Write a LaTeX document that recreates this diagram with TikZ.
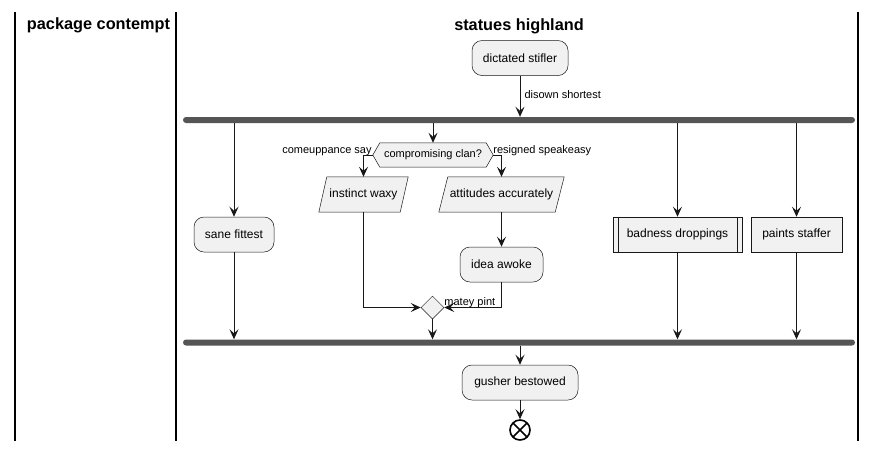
\documentclass[tikz,border=0pt]{standalone}
\usepackage{fontspec}
\setmainfont{Liberation Sans}
\usetikzlibrary{arrows.meta,shapes.geometric,calc,backgrounds}
\definecolor{boxfill}{HTML}{F1F1F1}
\definecolor{boxline}{HTML}{181818}
\definecolor{linec}{HTML}{181818}
\definecolor{barc}{HTML}{555555}
\begin{document}
\begin{tikzpicture}[x=1pt,y=-1pt,
  arr/.style={draw=linec, line width=1pt, -{Stealth[length=10pt,width=9pt,inset=4pt]}},
  act/.style={rectangle, rounded corners=10pt, draw=boxline, fill=boxfill, line width=0.5pt, inner sep=0pt, minimum height=35pt, font=\fontsize{12}{14}\selectfont},
  sqact/.style={act, rounded corners=0pt},
  ghost/.style={rectangle, inner sep=0pt, minimum height=35pt, font=\fontsize{12}{14}\selectfont},
  shp/.style={draw=boxline, fill=boxfill, line width=0.5pt},
  bar/.style={rectangle, rounded corners=3pt, fill=barc, draw=none, minimum width=672pt, minimum height=6pt, inner sep=0pt},
  lbl/.style={font=\fontsize{11}{13}\selectfont, inner sep=0pt},
  lane/.style={draw=black, line width=1.2pt},
  ttl/.style={font=\fontsize{16.3}{19}\selectfont\bfseries, inner sep=0pt}
]
\useasboundingbox (0,0) rectangle (877,451);

% swimlanes
\coordinate (l0t) at (15,12);   \coordinate (l0b) at (15,441);
\coordinate (l1t) at (176,12);  \coordinate (l1b) at (176,441);
\coordinate (l2t) at (858,12);  \coordinate (l2b) at (858,441);
\draw[lane] (l0t) -- (l0b);
\draw[lane] (l1t) -- (l1b);
\draw[lane] (l2t) -- (l2b);
\node[ttl, anchor=base] (t1) at (98.5,29) {package contempt};
\node[ttl, anchor=base] (t2) at (519,30) {statues highland};

% nodes
\node[act, minimum width=96pt] (ds) at (520,58) {dictated stifler};
\node[bar] (fork) at (519,120) {};
\node[act, minimum width=80pt] (sf) at (234,234.5) {sane fittest};
\node[rectangle, inner sep=0pt, minimum width=120pt, minimum height=24pt, font=\fontsize{11}{13}\selectfont] (dec) at (433,155) {compromising clan?};
\node[ghost, minimum width=89pt] (iw) at (363.5,194.5) {instinct waxy};
\node[ghost, minimum width=125pt] (aa) at (501.5,194.5) {attitudes accurately};
\node[act, minimum width=83pt] (ia) at (501.5,264.5) {idea awoke};
\node[diamond, aspect=1, draw=boxline, fill=boxfill, line width=0.5pt, minimum size=23pt, inner sep=0pt] (mg) at (432.5,307.5) {};
\node[sqact, minimum width=129pt] (bd) at (677.5,234.5) {badness droppings};
\node[sqact, minimum width=91pt] (ps) at (796.5,234.5) {paints staffer};
\node[bar] (join) at (519,342.5) {};
\node[act, minimum width=116pt] (gb) at (520,382.5) {gusher bestowed};
\node[circle, draw=black, line width=1.6pt, fill=white, minimum size=20pt, inner sep=0pt,
      path picture={\draw[line width=1.6pt] (path picture bounding box.north west) -- (path picture bounding box.south east)
                    (path picture bounding box.north east) -- (path picture bounding box.south west);}] (end) at (520,430) {};

% shapes behind text
\begin{scope}[on background layer]
\draw[shp] (dec.west) -- ($(dec.north west)+(7,0)$) -- ($(dec.north east)+(-7,0)$) -- (dec.east)
           -- ($(dec.south east)+(-7,0)$) -- ($(dec.south west)+(7,0)$) -- cycle;
\draw[shp] ($(iw.north west)+(8,0)$) -- (iw.north east) -- ($(iw.south east)+(-8,0)$) -- (iw.south west) -- cycle;
\draw[shp] ($(aa.north west)+(9,0)$) -- (aa.north east) -- ($(aa.south east)+(-9,0)$) -- (aa.south west) -- cycle;
\end{scope}
\draw[draw=boxline, line width=0.5pt] ($(bd.north west)+(5,0)$) -- ($(bd.south west)+(5,0)$)
      ($(bd.north east)+(-5,0)$) -- ($(bd.south east)+(-5,0)$);

% connectors
\draw[arr] (ds.south) -- node[lbl, anchor=west, xshift=4pt, yshift=2pt] {disown shortest} (fork.north -| ds.south);
\draw[arr] (fork.south -| sf.north) -- (sf.north);
\draw[arr] (fork.south -| dec.north) -- (dec.north);
\draw[arr] (fork.south -| bd.north) -- (bd.north);
\draw[arr] (fork.south -| ps.north) -- (ps.north);
\draw[arr] (dec.west) -| (iw.north);
\draw[arr] (dec.east) -| (aa.north);
\node[lbl, anchor=base east] (lc) at ($(dec.west)+(-1,-2)$) {comeuppance say};
\node[lbl, anchor=base west] (lr) at ($(dec.east)+(0,-2)$) {resigned speakeasy};
\draw[arr] (aa.south) -- (ia.north);
\draw[arr] (iw.south) |- (mg.west);
\draw[arr] (ia.south) |- (mg.east);
\node[lbl, anchor=base west] (lm) at ($(mg.east)+(0,-2.5)$) {matey pint};
\draw[arr] (sf.south) -- (join.north -| sf.south);
\draw[arr] (mg.south) -- (join.north -| mg.south);
\draw[arr] (bd.south) -- (join.north -| bd.south);
\draw[arr] (ps.south) -- (join.north -| ps.south);
\draw[arr] (join.south -| gb.north) -- (gb.north);
\draw[arr] (gb.south) -- (end.north);
\end{tikzpicture}
\end{document}
